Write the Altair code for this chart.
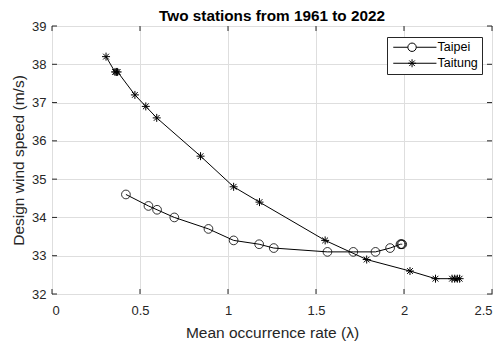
import altair as alt
import pandas as pd

# ---- data ----
series_names = ["Taipei", "Taitung"]

taipei_x = [0.420, 0.548, 0.597, 0.695, 0.889, 1.032, 1.177, 1.260, 1.565, 1.712, 1.838, 1.921, 1.980, 1.985, 1.990]
taipei_y = [34.6, 34.3, 34.2, 34.0, 33.7, 33.4, 33.3, 33.2, 33.1, 33.1, 33.1, 33.2, 33.3, 33.3, 33.3]

taitung_x = [0.307, 0.358, 0.366, 0.373, 0.471, 0.533, 0.595, 0.844, 1.032, 1.179, 1.552, 1.788, 2.034, 2.179, 2.273, 2.288, 2.303, 2.316]
taitung_y = [38.2, 37.8, 37.8, 37.8, 37.2, 36.9, 36.6, 35.6, 34.8, 34.4, 33.4, 32.9, 32.6, 32.4, 32.4, 32.4, 32.4, 32.4]

x_ticks = [0, 0.5, 1, 1.5, 2, 2.5]
y_ticks = [32, 33, 34, 35, 36, 37, 38, 39]

title_text = "Two stations from 1961 to 2022"
x_title = "Mean occurrence rate (\u03bb)"
y_title = "Design wind speed (m/s)"

# ---- tables ----
rows = []
for i, (a, b) in enumerate(zip(taipei_x, taipei_y)):
    rows.append({"series": "Taipei", "x": a, "y": b, "i": i})
for i, (a, b) in enumerate(zip(taitung_x, taitung_y)):
    rows.append({"series": "Taitung", "x": a, "y": b, "i": i})
df = pd.DataFrame(rows)
xt = pd.DataFrame({"x": x_ticks})
yt = pd.DataFrame({"y": y_ticks})
leg = pd.DataFrame({"series": series_names})

FONT = "Liberation Sans"
INK = "#262626"
W, H = 440, 268
TL = 5

xscale = alt.Scale(domain=[0, 2.5], nice=False, zero=False)
yscale = alt.Scale(domain=[32, 39], nice=False, zero=False)

common_axis = dict(grid=True, ticks=False, domain=False,
                   gridColor="#dedede", gridWidth=1, gridOpacity=1,
                   labelFont=FONT, labelFontSize=13, labelColor=INK,
                   titleFont=FONT, titleFontSize=15.5, titleFontWeight="normal", titleColor=INK)

xaxis = alt.Axis(values=x_ticks, format="~g", title=x_title,
                 labelPadding=10, titlePadding=8, **common_axis)
yaxis = alt.Axis(values=y_ticks, format="d", title=y_title,
                 labelPadding=6, titlePadding=5, **common_axis)

X = alt.X("x:Q", scale=xscale, axis=xaxis, title=x_title)
Y = alt.Y("y:Q", scale=yscale, axis=yaxis, title=y_title)

base = alt.Chart(df)

line = base.mark_line(color="black", strokeWidth=1).encode(
    x=X, y=Y, detail="series:N", order="i:Q",
)

CIRCLE = "circle"
ASTER = "M0,-1L0,1M-1,0L1,0M-0.72,-0.72L0.72,0.72M-0.72,0.72L0.72,-0.72"

pts_taipei = base.transform_filter(alt.datum.series == "Taipei").mark_point(
    shape=CIRCLE, size=76, filled=False, stroke="black", strokeWidth=0.8, opacity=1
).encode(x=X, y=Y)

pts_taitung = base.transform_filter(alt.datum.series == "Taitung").mark_point(
    shape=ASTER, size=64, filled=False, stroke="black", strokeWidth=1, opacity=1
).encode(x=X, y=Y)

# inward ticks on all four sides
tick_b = alt.Chart(xt).mark_rule(color=INK, strokeWidth=1).encode(
    x=X, y=alt.value(H), y2=alt.value(H - TL))
tick_t = alt.Chart(xt).mark_rule(color=INK, strokeWidth=1).encode(
    x=X, y=alt.value(0), y2=alt.value(TL))
tick_l = alt.Chart(yt).mark_rule(color=INK, strokeWidth=1).encode(
    y=Y, x=alt.value(0), x2=alt.value(TL))
tick_r = alt.Chart(yt).mark_rule(color=INK, strokeWidth=1).encode(
    y=Y, x=alt.value(W), x2=alt.value(W - TL))

# legend (MATLAB style: line through marker)
LEG_TAIPEI = "M-1,0L2.65,0M4.75,0L9.8,0M2.65,0A1.05,1.05 0 1,1 4.75,0A1.05,1.05 0 1,1 2.65,0"
LEG_TAITUNG = "M-1,0L9.8,0M3.7,-1L3.7,1M2.7,0L4.7,0M3.0,-0.7L4.4,0.7M3.0,0.7L4.4,-0.7"

legend_layer = alt.Chart(leg).mark_point(opacity=0, filled=False).encode(
    x=alt.value(W / 2), y=alt.value(H / 2),
    shape=alt.Shape("series:N",
                    scale=alt.Scale(domain=series_names, range=[LEG_TAIPEI, LEG_TAITUNG]),
                    legend=alt.Legend(title=None, orient="none", legendX=335, legendY=11,
                                      symbolSize=64, symbolStrokeWidth=1,
                                      symbolStrokeColor="black", symbolFillColor="transparent",
                                      symbolOpacity=1, labelOffset=34,
                                      labelFont=FONT, labelFontSize=12.5, labelColor="black",
                                      padding=4, rowPadding=3, strokeColor=INK,
                                      fillColor="white", cornerRadius=0)),
)

chart = alt.layer(
    line, pts_taipei, pts_taitung, tick_b, tick_t, tick_l, tick_r, legend_layer
).properties(
    width=W, height=H,
    title=alt.TitleParams(title_text, font=FONT, fontSize=15.3, fontWeight="bold",
                          color="black", anchor="middle", offset=5, dy=9.5, frame="group"),
    autosize="none",
    padding={"left": 44, "top": 18, "right": 1, "bottom": 49},
    background="white",
).configure_view(
    stroke=INK, strokeWidth=1
)

chart.save("out.html", embed_options={"renderer": "svg", "actions": False})
